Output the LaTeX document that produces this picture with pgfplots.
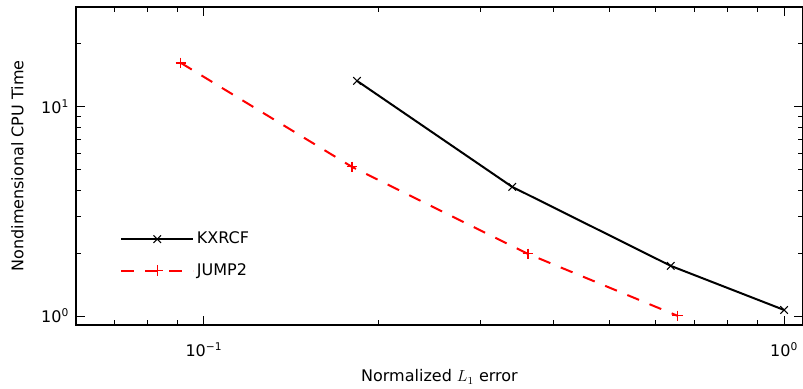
\documentclass[border=0pt]{standalone}
\usepackage{fontspec}
\setmainfont{DejaVu Sans}
\usepackage{pgfplots}
\pgfplotsset{compat=1.18}
\begin{document}
\fontsize{12pt}{14pt}\selectfont
\begin{tikzpicture}
\begin{loglogaxis}[
  scale only axis,
  width=545.25pt, height=238.5pt,
  xmin=0.0602, xmax=1.078,
  ymin=0.905, ymax=30,
  xtick={0.1,1}, xticklabels={10\textsuperscript{−1},10\textsuperscript{0}},
  ytick={1,10}, yticklabels={10\textsuperscript{0},10\textsuperscript{1}},
  minor xtick={0.07,0.08,0.09,0.2,0.3,0.4,0.5,0.6,0.7,0.8,0.9},
  minor ytick={2,3,4,5,6,7,8,9,20,30},
  tick align=inside,
  major tick length=6.5pt, minor tick length=3.5pt,
  every tick/.style={black, line width=0.6pt},
  axis line style={line width=1.6pt},
  xticklabel style={yshift=-9pt},
  yticklabel style={xshift=-1pt},
  xlabel={Normalized $L_1$ error},
  ylabel={Nondimensional CPU Time},
  every axis x label/.style={at={(axis description cs:0.5,0)}, anchor=center, yshift=-39pt},
  every axis y label/.style={at={(axis description cs:0,0.5)}, anchor=center, rotate=90, yshift=44pt},
  legend style={draw=none, fill=none, at={(axis description cs:0.055,0.31)}, anchor=north west, row sep=9pt, font=\fontsize{12pt}{14pt}\selectfont},
  legend cell align=left,
  legend image code/.code={\draw[mark repeat=2,mark phase=2,#1] plot coordinates {(0pt,0pt) (27pt,0pt) (54pt,0pt)};},
]
\addplot[black, line width=1.5pt, mark=x, mark size=4pt, mark options={line width=0.8pt, solid}]
  coordinates {(0.1837,13.3) (0.340,4.14) (0.638,1.735) (1.0,1.068)};
\addlegendentry{KXRCF}
\addplot[red, line width=1.5pt, dash pattern=on 9.5pt off 8.5pt, mark=+, mark size=4pt, mark options={line width=0.8pt, solid}]
  coordinates {(0.0913,16.2) (0.180,5.16) (0.362,1.98) (0.656,1.0)};
\addlegendentry{JUMP2}
\end{loglogaxis}
\pgfresetboundingbox
\path ([shift={(-57pt,-48pt)}]current axis.south west) rectangle ([shift={(0pt,5.25pt)}]current axis.north east);
\end{tikzpicture}
\end{document}
